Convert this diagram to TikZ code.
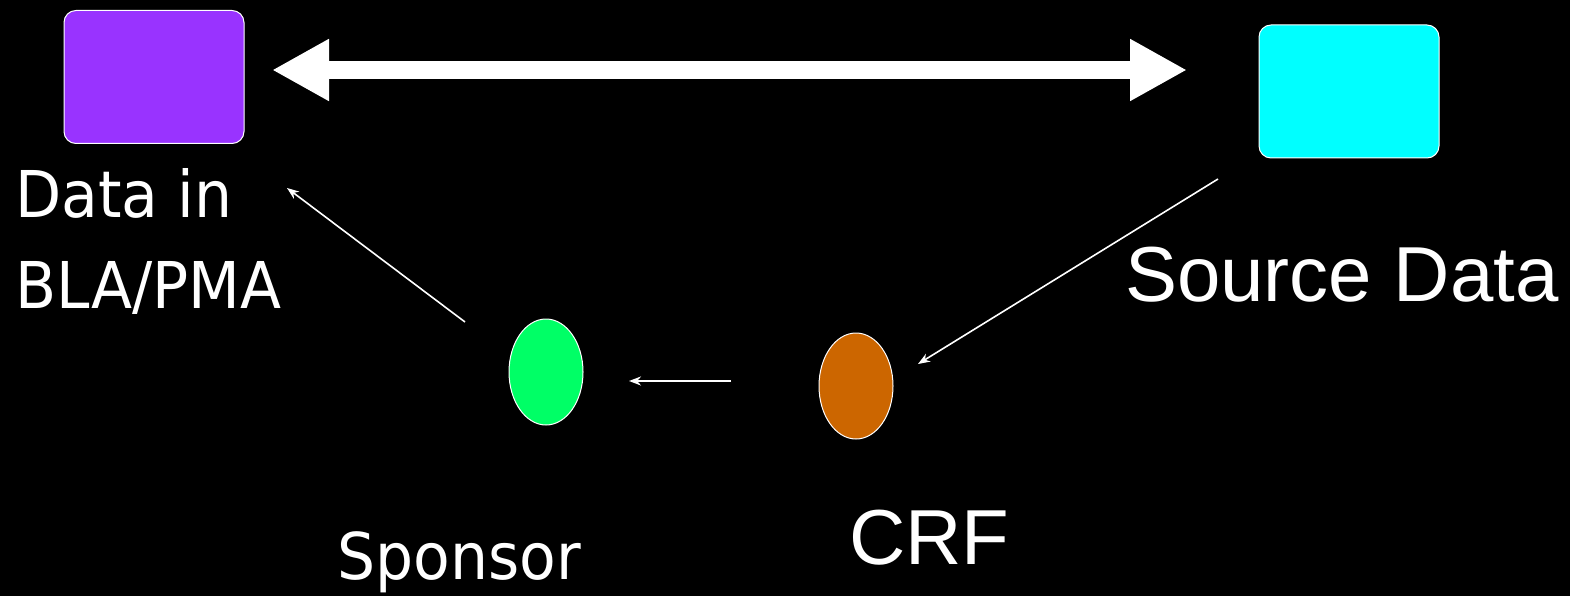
\documentclass[tikz,border=0pt]{standalone}
\usepackage{fontspec}
\usetikzlibrary{arrows.meta,shapes.geometric}
\newfontfamily\tahfont[FakeStretch=0.93]{DejaVu Sans}
\newfontfamily\arifont{Liberation Sans}
\tikzset{
  box/.style={draw=white, line width=1pt, rounded corners=12pt, minimum width=180pt, minimum height=133pt, inner sep=0pt},
  blob/.style={ellipse, draw=white, line width=1pt, minimum width=74pt, minimum height=106pt, inner sep=0pt},
  lbl/.style={text=white, inner sep=0pt, anchor=base west},
  tah/.style={font=\tahfont\fontsize{64.5}{91}\selectfont},
  ari/.style={font=\arifont\fontsize{78}{90}\selectfont},
  thin/.style={draw=white, line width=1.6pt, -{Stealth[length=12pt,width=9pt]}},
  big/.style={draw=white, line width=18pt, {Triangle[length=57pt,width=58pt]}-{Triangle[length=57pt,width=58pt]}}
}
\begin{document}
\begin{tikzpicture}[x=1pt,y=-1pt]
\fill[black] (0,0) rectangle (1570,596);
\useasboundingbox (0,0) rectangle (1570,596);
\node[box, fill={rgb,255:red,153;green,51;blue,255}] (bla) at (154,77) {};
\node[box, fill={rgb,255:red,0;green,255;blue,255}] (src) at (1349,91.5) {};
\node[blob, fill={rgb,255:red,0;green,255;blue,102}] (spon) at (546,372) {};
\node[blob, fill={rgb,255:red,204;green,102;blue,0}] (crf) at (856,386) {};
\node[lbl, tah] (data1) at (15,217) {Data in};
\node[lbl, tah] (data2) at (15,308) {BLA/PMA};
\node[lbl, ari] (srctxt) at (1125,301) {Source Data};
\node[lbl, tah] (spontxt) at (337,579) {Sponsor};
\node[lbl, ari] (crftxt) at (849,564) {CRF};
\coordinate (bigL) at (272,70);
\coordinate (bigR) at (1187,70);
\draw[big] (bigL) -- (bigR);
\coordinate (a1s) at (465,322);
\coordinate (a1e) at (287,188);
\draw[thin] (a1s) -- (a1e);
\coordinate (a2s) at (1218,179);
\coordinate (a2e) at (918,364);
\draw[thin] (a2s) -- (a2e);
\coordinate (a3s) at (731,381);
\coordinate (a3e) at (629,381);
\draw[thin, line width=2.2pt] (a3s) -- (a3e);
\end{tikzpicture}
\end{document}
